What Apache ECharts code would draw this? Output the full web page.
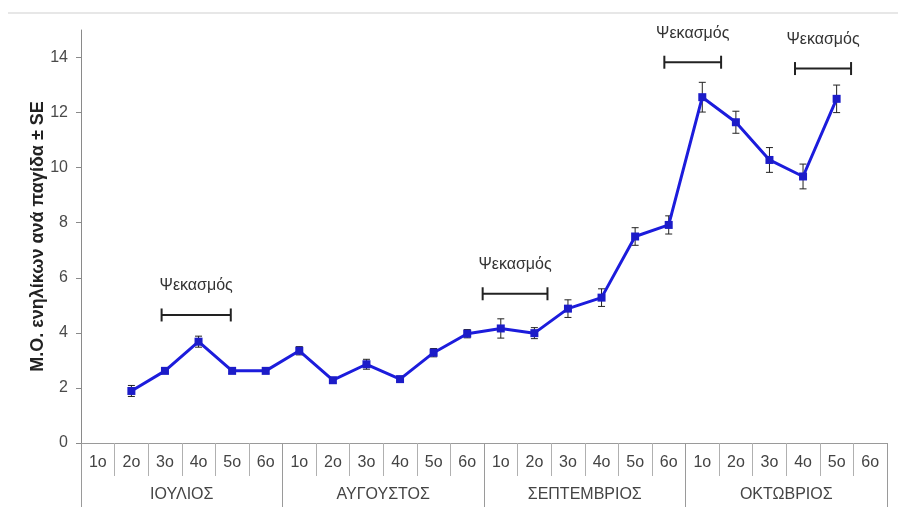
<!DOCTYPE html>
<html><head><meta charset="utf-8">
<script src="https://cdn.jsdelivr.net/npm/echarts@6/dist/echarts.min.js"></script>
<style>html,body{margin:0;padding:0;background:#fff}#c{width:898px;height:507px}</style>
</head><body><div id="c"></div>
<script>
const weekLabels = ['1ο','2ο','3ο','4ο','5ο','6ο'];
const months = ['ΙΟΥΛΙΟΣ','ΑΥΓΟΥΣΤΟΣ','ΣΕΠΤΕΜΒΡΙΟΣ','ΟΚΤΩΒΡΙΟΣ'];
const means = [null,1.89,2.62,3.68,2.62,2.62, 3.35,2.28,2.86,2.32,3.28,3.97, 4.16,3.99,4.88,5.28,7.5,7.92, 12.56,11.65,10.28,9.68,12.5,null];
const se    = [null,0.2,0.1,0.2,0.1,0.1, 0.15,0.1,0.18,0.1,0.15,0.15, 0.35,0.2,0.32,0.32,0.32,0.33, 0.54,0.4,0.45,0.45,0.5,null];
const yTicks = [0,2,4,6,8,10,12,14];
const yMax = 15;
const yAxisTitle = 'Μ.Ο. ενηλίκων ανά παγίδα ± SE';
const sprayLabel = 'Ψεκασμός';
const sprayStart = [1.9, 11.46, 16.87, 20.76];
const sprayEnd   = [3.96, 13.39, 18.56, 22.43];
const sprayLevel = [4.65, 5.42, 13.83, 13.6];

const weeks = [];
months.forEach(() => weekLabels.forEach(w => weeks.push(w)));
const errData = [];
means.forEach((m, i) => { if (m != null) errData.push([i, m - se[i], m + se[i]]); });
const sprayData = sprayStart.map((s, i) => [s, sprayEnd[i], sprayLevel[i]]);

const FONT = '"Liberation Sans", Arial, sans-serif';
const chart = echarts.init(document.getElementById('c'), null, {renderer: 'canvas'});
chart.setOption({
  animation: false,
  backgroundColor: '#fff',
  graphic: [{type: 'line', shape: {x1: 8, y1: 13, x2: 898, y2: 13}, style: {stroke: '#cfcfcf', lineWidth: 1}}],
  grid: {left: 81, right: 11, top: 30, bottom: 64, containLabel: false},
  xAxis: [
    {type: 'category', data: weeks, position: 'bottom', boundaryGap: true,
     axisLine: {show: true, onZero: false, lineStyle: {color: '#9a9a9a', width: 1}},
     axisTick: {show: true, interval: 0, length: 33, lineStyle: {color: '#b0b0b0'}},
     axisLabel: {interval: 0, margin: 12, fontSize: 16, color: '#444', fontFamily: FONT},
     splitLine: {show: false}},
    {type: 'category', data: months, position: 'bottom', boundaryGap: true,
     axisLine: {show: false, onZero: false},
     axisTick: {show: true, interval: 0, length: 64, lineStyle: {color: '#9a9a9a'}},
     axisLabel: {interval: 0, margin: 44, fontSize: 16, color: '#444', fontFamily: FONT},
     splitLine: {show: false}},
    {type: 'value', min: -0.5, max: 23.5, show: false, axisLine: {onZero: false}}
  ],
  yAxis: {type: 'value', min: 0, max: yMax, interval: 2,
    name: yAxisTitle, nameLocation: 'middle', nameGap: 34, nameRotate: 90, nameMoveOverlap: false,
    nameTextStyle: {fontSize: 18, fontWeight: 'bold', color: '#222', fontFamily: FONT},
    axisLine: {show: true, onZero: false, lineStyle: {color: '#8a8a8a'}},
    axisTick: {show: true, length: 5, customValues: yTicks, lineStyle: {color: '#8a8a8a'}},
    axisLabel: {customValues: yTicks, margin: 13, fontSize: 16, color: '#4a4a4a', fontFamily: FONT},
    splitLine: {show: false}},
  series: [
    {type: 'custom', xAxisIndex: 0, z: 1, data: errData,
     renderItem: (params, api) => {
       const i = api.value(0);
       const lo = api.coord([i, api.value(1)]);
       const hi = api.coord([i, api.value(2)]);
       const st = {stroke: '#222', lineWidth: 1};
       return {type: 'group', children: [
         {type: 'line', shape: {x1: lo[0], y1: lo[1], x2: hi[0], y2: hi[1]}, style: st},
         {type: 'line', shape: {x1: lo[0]-3.5, y1: lo[1], x2: lo[0]+3.5, y2: lo[1]}, style: st},
         {type: 'line', shape: {x1: hi[0]-3.5, y1: hi[1], x2: hi[0]+3.5, y2: hi[1]}, style: st}
       ]};
     }},
    {type: 'line', xAxisIndex: 0, z: 2, data: means, connectNulls: false,
     symbol: 'rect', symbolSize: 8,
     lineStyle: {color: '#1c1cdc', width: 3},
     itemStyle: {color: '#1c1cc8'}},
    {type: 'custom', xAxisIndex: 2, z: 3, data: sprayData, clip: false,
     renderItem: (params, api) => {
       const y = api.value(2);
       const p0 = api.coord([api.value(0), y]);
       const p1 = api.coord([api.value(1), y]);
       const st = {stroke: '#222', lineWidth: 2};
       return {type: 'group', children: [
         {type: 'line', shape: {x1: p0[0], y1: p0[1], x2: p1[0], y2: p1[1]}, style: st},
         {type: 'line', shape: {x1: p0[0], y1: p0[1]-6.5, x2: p0[0], y2: p0[1]+6.5}, style: st},
         {type: 'line', shape: {x1: p1[0], y1: p1[1]-6.5, x2: p1[0], y2: p1[1]+6.5}, style: st},
         {type: 'text', x: (p0[0]+p1[0])/2, y: p0[1]-29,
          style: {text: sprayLabel, fill: '#333', font: '16px ' + FONT, textAlign: 'center', textVerticalAlign: 'middle'}}
       ]};
     }}
  ]
});
</script></body></html>
